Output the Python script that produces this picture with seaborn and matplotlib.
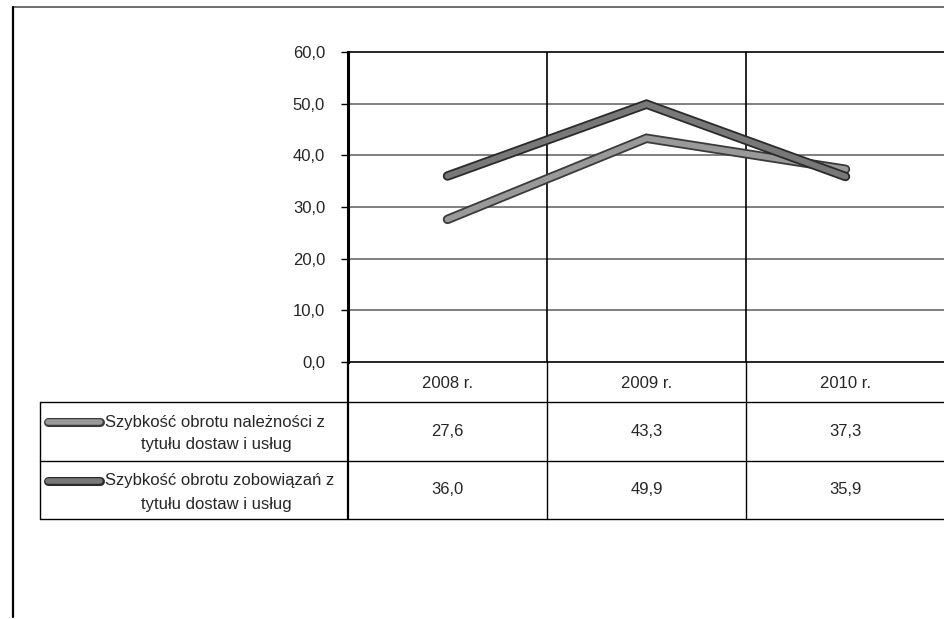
import matplotlib
matplotlib.use("Agg")
import matplotlib.pyplot as plt
import matplotlib.patheffects as pe
from matplotlib.lines import Line2D
import seaborn as sns
import pandas as pd
from matplotlib.font_manager import fontManager

categories = ["2008 r.", "2009 r.", "2010 r."]
series_names = [
    "Szybkość obrotu należności z\ntytułu dostaw i usług",
    "Szybkość obrotu zobowiązań z\ntytułu dostaw i usług",
]
receivables = [27.6, 43.3, 37.3]
liabilities = [36.0, 49.9, 35.9]
y_ticks = [0, 10, 20, 30, 40, 50, 60]

sns.set_theme(style="white")
names = {f.name for f in fontManager.ttflist}
fam = ["Liberation Sans Narrow", "Liberation Sans", "DejaVu Sans"]
fam = [f for f in fam if f in names] + ["DejaVu Sans"]
plt.rcParams["font.family"] = fam

W, H = 945, 619
fig = plt.figure(figsize=(W / 100, H / 100), dpi=100)

def fx(px):
    return px / W

def fy(py):
    return 1 - py / H

ax = fig.add_axes([fx(348), fy(362), fx(945) - fx(348), fy(52) - fy(362)])

df = pd.DataFrame({
    "x": list(range(len(categories))) * 2,
    "value": receivables + liabilities,
    "series": [series_names[0]] * 3 + [series_names[1]] * 3,
})
fills = ["#999999", "#787878"]
edges = ["#3a3a3a", "#2a2a2a"]
sns.lineplot(data=df, x="x", y="value", hue="series", palette=fills,
             linewidth=4.2, legend=False, ax=ax, sort=False)
for ln, ec in zip(ax.lines, edges):
    ln.set_solid_capstyle("round")
    ln.set_solid_joinstyle("miter")
    ln.set_path_effects([pe.Stroke(linewidth=6.8, foreground=ec), pe.Normal()])

ax.set_xlim(-0.5, len(categories) - 0.5)
ax.set_ylim(0, 60)
ax.set_yticks(y_ticks)
ax.set_yticklabels([f"{v:.1f}".replace(".", ",") for v in y_ticks], fontsize=12)
ax.set_xticks([])
ax.set_xlabel("")
ax.set_ylabel("")
ax.tick_params(axis="y", which="both", left=True, length=5, width=1, color="black", pad=11.5)
for v in y_ticks[1:-1]:
    ax.axhline(v, color="#6a6a6a", linewidth=1.2, zorder=0)
for b in [0.5, 1.5]:
    ax.axvline(b, color="black", linewidth=1.2, zorder=0)
for s in ["top", "bottom"]:
    ax.spines[s].set_visible(True)
    ax.spines[s].set_color("black")
    ax.spines[s].set_linewidth(1.2)
ax.spines["left"].set_color("black")
ax.spines["left"].set_linewidth(2.2)
ax.spines["right"].set_visible(False)
ax.patch.set_alpha(0)

# outer chart border
fig.add_artist(Line2D([fx(13), fx(945)], [fy(7), fy(7)], color="#555555", lw=1.2))
fig.add_artist(Line2D([fx(13), fx(13)], [fy(7), fy(617)], color="black", lw=1.6))

# data table
col_x = [40, 348, 547, 746, 945]
row_y = [362, 402, 461, 519]
def hline(y, x0, x1, lw=1.0):
    fig.add_artist(Line2D([fx(x0), fx(x1)], [fy(y), fy(y)], color="black", lw=lw))
def vline(x, y0, y1, lw=1.0):
    fig.add_artist(Line2D([fx(x), fx(x)], [fy(y0), fy(y1)], color="black", lw=lw))

hline(row_y[1], col_x[0], col_x[4])
hline(row_y[2], col_x[0], col_x[4])
hline(row_y[3], col_x[0], col_x[4])
vline(col_x[0], row_y[1], row_y[3])
vline(col_x[1], row_y[0], row_y[3], lw=1.6)
vline(col_x[2], row_y[0], row_y[3])
vline(col_x[3], row_y[0], row_y[3])

for i, c in enumerate(categories):
    cx = (col_x[i + 1] + col_x[i + 2]) / 2
    fig.text(fx(cx), fy((row_y[0] + row_y[1]) / 2 + 1), c, ha="center", va="center", fontsize=12)

for r, (name, vals) in enumerate(zip(series_names, [receivables, liabilities])):
    y0, y1 = row_y[r + 1], row_y[r + 2]
    first, second = name.split("\n")
    l1y = y0 + 20
    l2y = y0 + 43
    fig.text(fx(105), fy(l1y), first, ha="left", va="center", fontsize=12)
    fig.text(fx(216), fy(l2y), second, ha="center", va="center", fontsize=12)
    sym = Line2D([fx(48), fx(100)], [fy(l1y), fy(l1y)], color=fills[r], lw=4,
                 solid_capstyle="round")
    sym.set_path_effects([pe.Stroke(linewidth=6.5, foreground=edges[r]), pe.Normal()])
    fig.add_artist(sym)
    for i, v in enumerate(vals):
        cx = (col_x[i + 1] + col_x[i + 2]) / 2
        fig.text(fx(cx), fy((y0 + y1) / 2), f"{v:.1f}".replace(".", ","),
                 ha="center", va="center", fontsize=12)

fig.savefig("out.png", dpi=100, facecolor="white")
